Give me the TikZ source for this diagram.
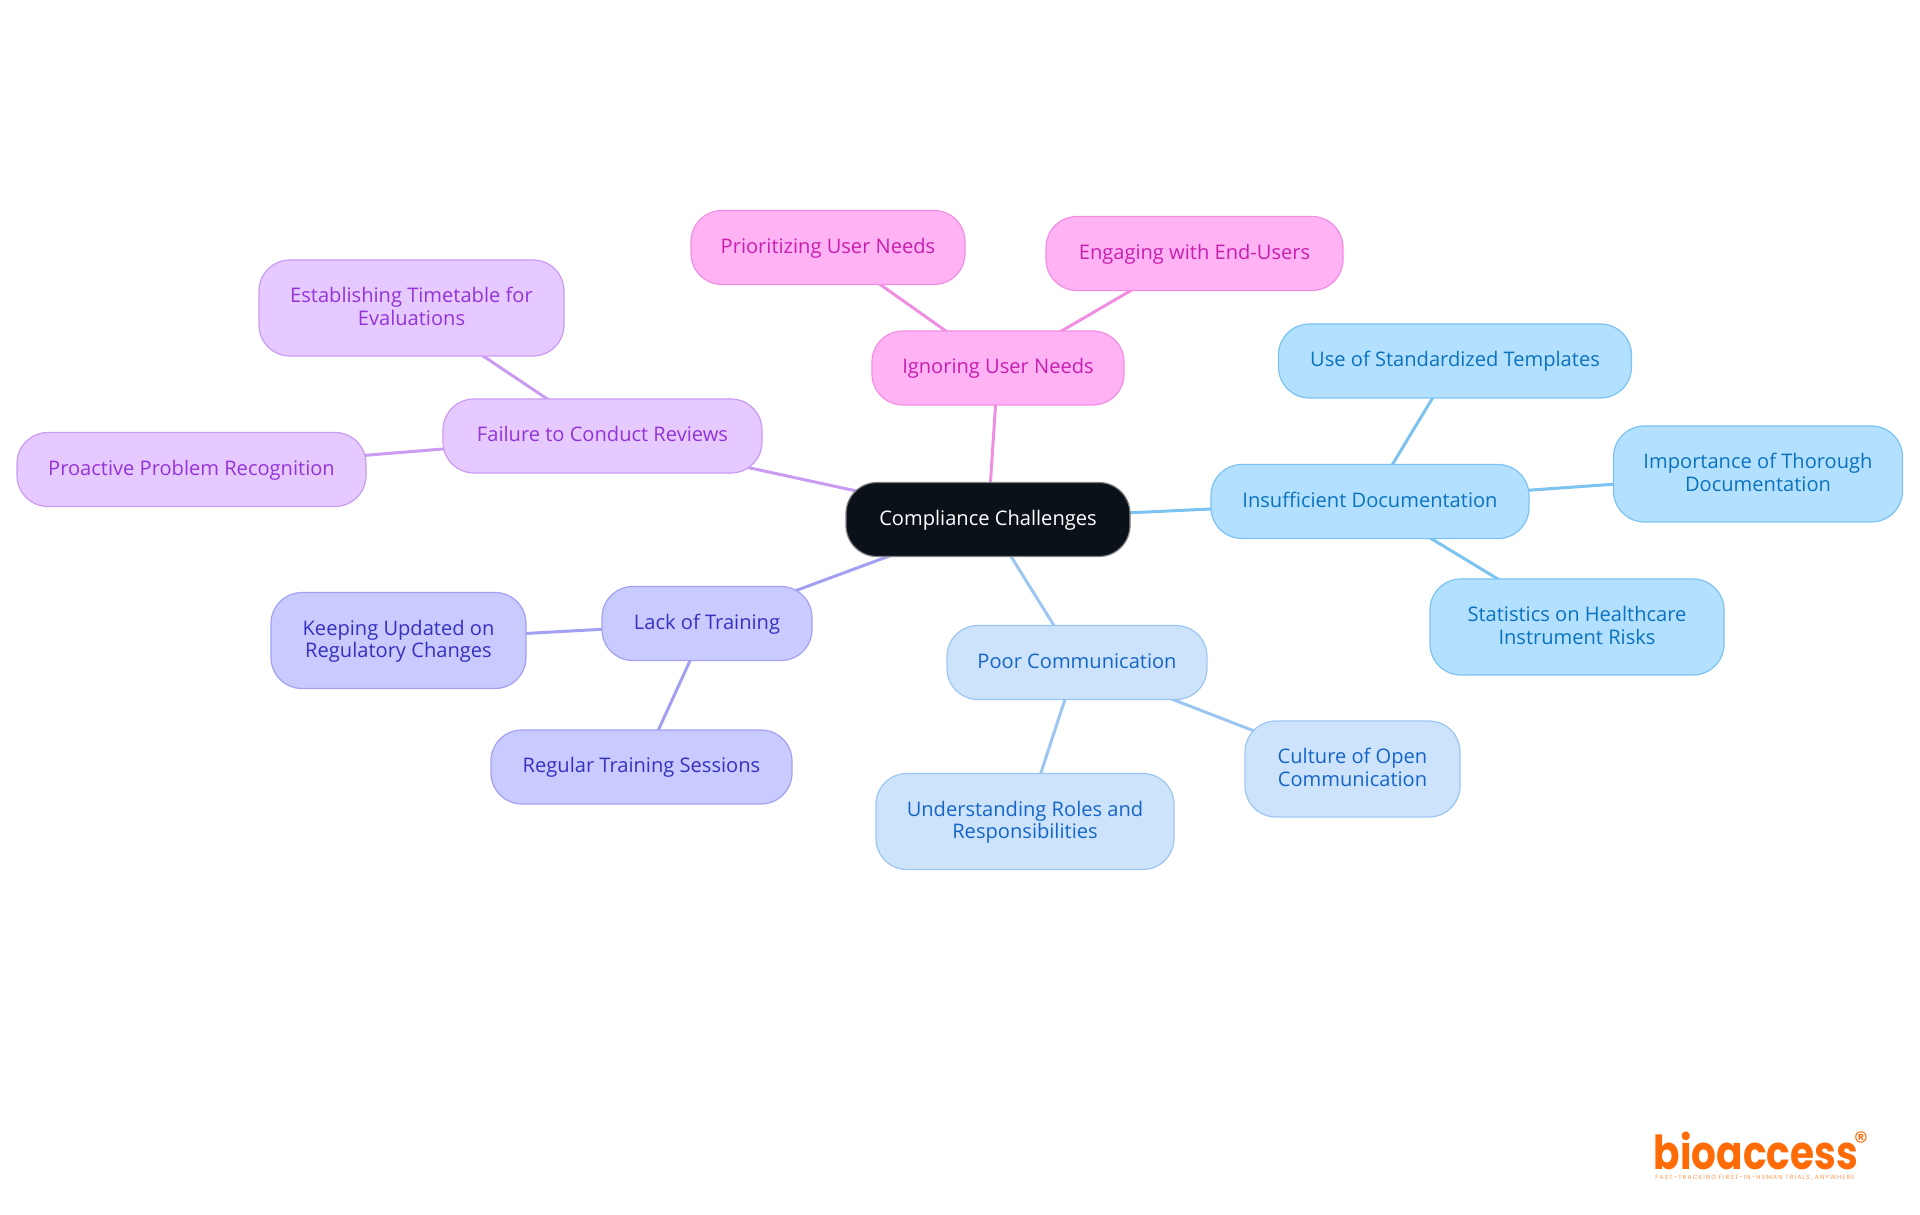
\documentclass[tikz,border=0pt]{standalone}
\usepackage{fontspec}
\setmainfont{Open Sans}
\newfontfamily\logofont{Poppins}
\newfontfamily\tagfont[LetterSpace=18]{Poppins}
\usetikzlibrary{positioning,backgrounds}
\definecolor{docsfill}{HTML}{B3E0FF}
\definecolor{docsline}{HTML}{7CC3F2}
\definecolor{docstext}{HTML}{0B72BE}
\definecolor{commfill}{HTML}{CDE3FB}
\definecolor{commline}{HTML}{9CC6F2}
\definecolor{commtext}{HTML}{1565C8}
\definecolor{trainfill}{HTML}{C9CBFF}
\definecolor{trainline}{HTML}{A3A0F2}
\definecolor{traintext}{HTML}{3730C0}
\definecolor{reviewfill}{HTML}{E6CAFF}
\definecolor{reviewline}{HTML}{C99BF2}
\definecolor{reviewtext}{HTML}{9333D8}
\definecolor{userfill}{HTML}{FFB3F5}
\definecolor{userline}{HTML}{F08FE2}
\definecolor{usertext}{HTML}{C81EAE}
\definecolor{rootfill}{HTML}{0B1119}
\definecolor{logoorange}{HTML}{FF6B06}
\tikzset{
    topic/.style={rectangle,rounded corners=31pt,line width=1.2pt,inner sep=0pt,
        align=center,minimum height=74pt,text height=15pt,text depth=3pt,
        font=\fontsize{20.1}{22.4}\selectfont},
    tall/.style={minimum height=96pt,text height={},text depth=3.5pt},
    docs/.style={topic,draw=docsline,fill=docsfill,text=docstext},
    comm/.style={topic,draw=commline,fill=commfill,text=commtext},
    train/.style={topic,draw=trainline,fill=trainfill,text=traintext},
    review/.style={topic,draw=reviewline,fill=reviewfill,text=reviewtext},
    usr/.style={topic,draw=userline,fill=userfill,text=usertext},
    link/.style={line width=3pt}
}

\begin{document}
\begin{tikzpicture}[x=1pt,y=1pt,node distance=100pt,on grid]
            \useasboundingbox (0,0) rectangle (1920,1215);
            \node[topic, draw=gray, fill=rootfill, text=white, minimum width=284pt] (root) at (988,695.5) {Compliance Challenges};
            \node[docs, minimum width=318pt] (documentation) [above right=18pt and 382pt of root] {Insufficient Documentation};
            \node[docs, minimum width=353pt] (templates) [above right=140.5pt and 85pt of documentation] {Use of Standardized Templates};
            \node[docs, tall, minimum width=289pt] (thorough) [above right=27.5pt and 388pt of documentation] {Importance of Thorough\\Documentation};
            \node[docs, tall, minimum width=294pt] (statistics) [below right=125.5pt and 207pt of documentation] {Statistics on Healthcare\\Instrument Risks};
            \node[comm, minimum width=260pt] (communication) [below right=143pt and 89pt of root] {Poor Communication};
            \node[comm, tall, minimum width=215pt] (culture) [below right=106.5pt and 275.5pt of communication] {Culture of Open\\Communication};
            \node[comm, tall, minimum width=298pt] (roles) [below left=159pt and 52pt of communication] {Understanding Roles and\\Responsibilities};
            \node[train, minimum width=210pt] (training) [below left=104pt and 281pt of root] {Lack of Training};
            \node[train, tall, minimum width=255pt] (updates) [below left=17pt and 308.5pt of training] {Keeping Updated on\\Regulatory Changes};
            \node[train, minimum width=301pt] (sessions) [below left=143.5pt and 65.5pt of training] {Regular Training Sessions};
            \node[review, minimum width=319pt] (reviews) [above left=83.5pt and 385.5pt of root] {Failure to Conduct Reviews};
            \node[review, tall, minimum width=305pt] (timetable) [above left=128pt and 191pt of reviews] {Establishing Timetable for\\Evaluations};
            \node[review, minimum width=349pt] (proactive) [below left=33.5pt and 411pt of reviews] {Proactive Problem Recognition};
            \node[usr, minimum width=252pt] (needs) [above right=151.5pt and 10pt of root] {Ignoring User Needs};
            \node[usr, minimum width=274pt] (prioritizing) [above left=120.5pt and 170pt of needs] {Prioritizing User Needs};
            \node[usr, minimum width=297pt] (engaging) [above right=114.5pt and 196.5pt of needs] {Engaging with End-Users};
            \node[text=logoorange, font=\logofont\bfseries\fontsize{39}{39}\selectfont, inner sep=0pt, yscale=1.2, transform shape] (logo) at (1756,64) {bioaccess};
            \node[text=logoorange, font=\logofont\fontsize{28}{28}\selectfont, inner sep=0pt] (mark) at (1861,73) {®};
            \node[text=logoorange!70, font=\tagfont\fontsize{6.1}{7}\selectfont, inner sep=0pt] (tagline) at (1755,37) {FAST-TRACKING FIRST-IN-HUMAN TRIALS, ANYWHERE};
            \begin{scope}[on background layer]
            \path[link, draw=docsline]
                (root.center)
                    edge (documentation.center)
                (documentation.center)
                    edge (templates.center)
                    edge (thorough.center)
                    edge (statistics.center);
            \path[link, draw=commline]
                (root.center)
                    edge (communication.center)
                (communication.center)
                    edge (culture.center)
                    edge (roles.center);
            \path[link, draw=trainline]
                (root.center)
                    edge (training.center)
                (training.center)
                    edge (updates.center)
                    edge (sessions.center);
            \path[link, draw=reviewline]
                (root.center)
                    edge (reviews.center)
                (reviews.center)
                    edge (timetable.center)
                    edge (proactive.center);
            \path[link, draw=userline]
                (root.center)
                    edge (needs.center)
                (needs.center)
                    edge (prioritizing.center)
                    edge (engaging.center);
            \end{scope}
        \end{tikzpicture}
\end{document}
